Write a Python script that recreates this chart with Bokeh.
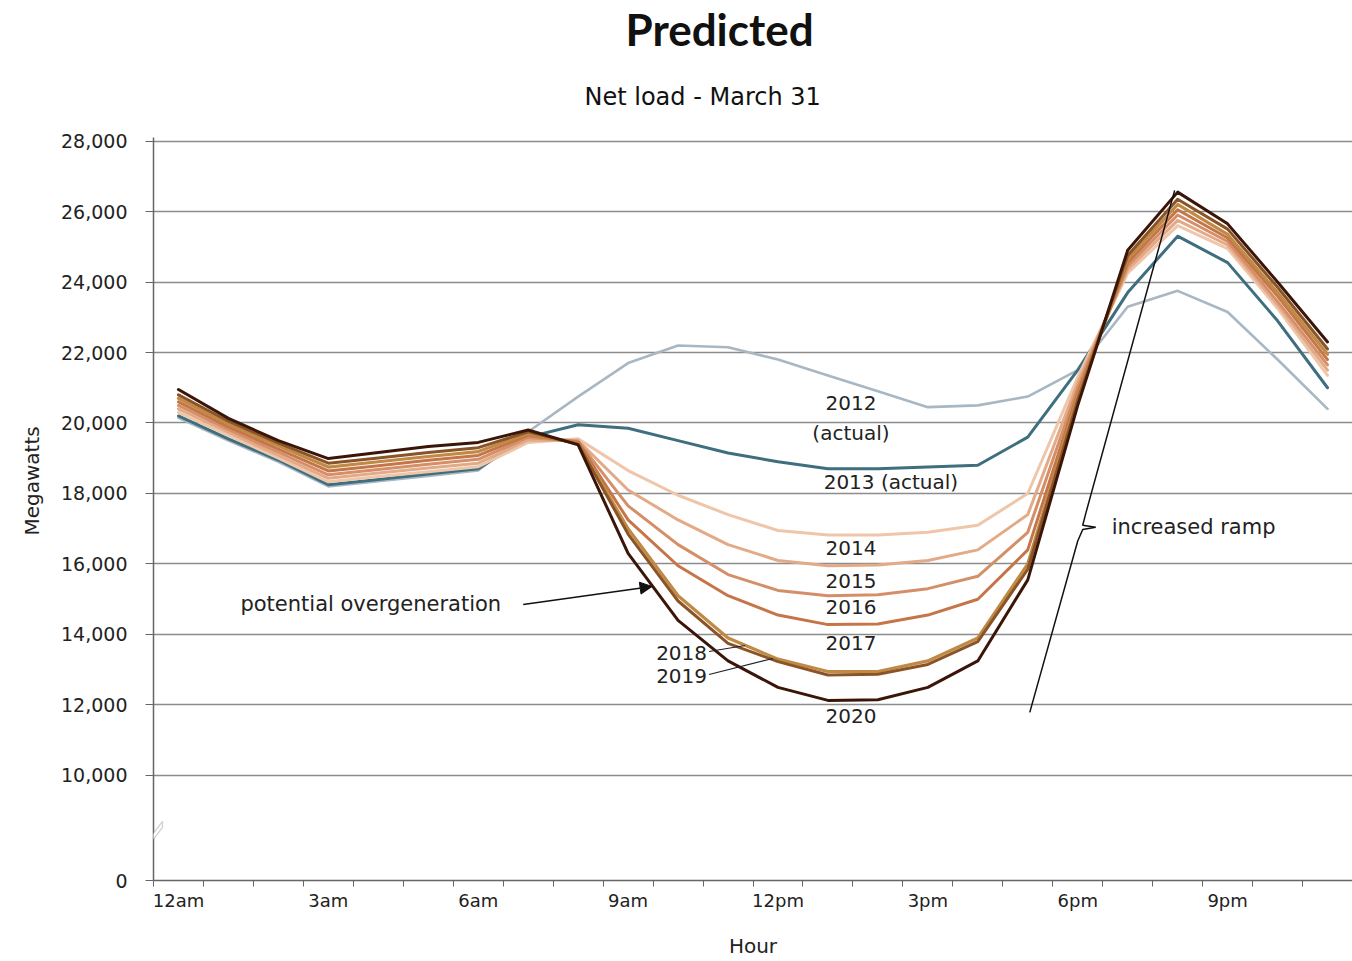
from bokeh.plotting import figure
from bokeh.models import (FixedTicker, NumeralTickFormatter, Range1d, Label, Title,
                          Arrow, NormalHead, PolyAnnotation)
from bokeh.embed import file_html
from bokeh.resources import INLINE

# ---------------- data ----------------
hours = list(range(24))
hour_labels = {0: "12am", 3: "3am", 6: "6am", 9: "9am", 12: "12pm", 15: "3pm", 18: "6pm", 21: "9pm"}
y_tick_values = [10000, 12000, 14000, 16000, 18000, 20000, 22000, 24000, 26000, 28000]
ZERO_POS = 7020  # where the "0" tick sits below the axis break

load_2012 = [20150, 19500, 18900, 18200, 18350, 18500, 18650, 19750, 20750, 21700, 22200, 22150,
             21800, 21350, 20900, 20450, 20500, 20750, 21500, 23300, 23750, 23150, 21800, 20400]
load_2013 = [20200, 19550, 18950, 18250, 18400, 18550, 18700, 19600, 19950, 19850, 19500, 19150,
             18900, 18700, 18700, 18750, 18800, 19600, 21500, 23700, 25300, 24550, 22900, 21000]
load_2014 = [20300, 19650, 19000, 18330, 18480, 18620, 18760, 19450, 19550, 18650, 17950, 17400,
             16950, 16820, 16820, 16900, 17100, 18000, 21300, 24250, 25600, 24950, 23250, 21350]
load_2015 = [20400, 19730, 19080, 18430, 18580, 18720, 18860, 19520, 19500, 18100, 17250, 16550,
             16100, 15950, 15970, 16100, 16400, 17400, 21150, 24350, 25750, 25050, 23350, 21500]
load_2016 = [20500, 19810, 19170, 18530, 18680, 18830, 18970, 19590, 19480, 17650, 16550, 15700,
             15250, 15100, 15130, 15300, 15650, 16900, 21000, 24450, 25900, 25150, 23450, 21650]
load_2017 = [20600, 19890, 19260, 18640, 18790, 18940, 19080, 19650, 19450, 17250, 15950, 15100,
             14550, 14280, 14300, 14550, 15000, 16400, 20850, 24550, 26050, 25250, 23600, 21800]
load_2018 = [20700, 19970, 19350, 18750, 18900, 19050, 19190, 19700, 19420, 17000, 15100, 13900,
             13300, 12950, 12950, 13250, 13900, 16000, 20750, 24650, 26200, 25350, 23700, 21950]
load_2019 = [20800, 20050, 19430, 18860, 19010, 19160, 19300, 19750, 19400, 16850, 14950, 13750,
             13230, 12850, 12870, 13150, 13800, 15850, 20650, 24750, 26350, 25500, 23850, 22100]
load_2020 = [20950, 20130, 19500, 18990, 19160, 19330, 19450, 19800, 19380, 16300, 14400, 13250,
             12500, 12130, 12150, 12500, 13250, 15550, 20500, 24900, 26550, 25650, 24000, 22300]

series = [
    ("2012", load_2012, "#a9b7c2", 2.6),
    ("2013", load_2013, "#3f6e7e", 3.0),
    ("2014", load_2014, "#efc6aa", 3.0),
    ("2015", load_2015, "#e3aa87", 3.0),
    ("2016", load_2016, "#d58f68", 3.0),
    ("2017", load_2017, "#c67548", 3.0),
    ("2018", load_2018, "#c08a45", 3.2),
    ("2019", load_2019, "#8a5428", 3.0),
    ("2020", load_2020, "#3b1608", 3.0),
]

# ---------------- figure ----------------
FONT = "DejaVu Sans"
TXT = "#222222"
AX = "#666666"

p = figure(width=1352, height=960, output_backend="svg", toolbar_location=None,
           x_range=Range1d(-0.5, 23.5), y_range=Range1d(ZERO_POS, 28100),
           title_location=None,
           min_border_left=153, min_border_right=0, min_border_top=137, min_border_bottom=80)
p.outline_line_color = None
p.background_fill_color = "white"
p.border_fill_color = "white"

for name, vals, color, lw in series:
    p.line(hours, vals, line_color=color, line_width=lw, line_join="round", line_cap="round")

# titles (subtitle first: it sits closest to the frame)
sub = Title(text="Net load - March 31", align="left", offset=431, standoff=53,
            text_font=FONT, text_font_size="24px", text_font_style="normal", text_color="#111111")
main = Title(text="Predicted", align="left", offset=472, standoff=0,
             text_font="Lato", text_font_size="44px", text_font_style="bold", text_color="#111111")
p.add_layout(sub, "above")
p.add_layout(main, "above")

# x axis
xa = p.xaxis[0]
xa.ticker = FixedTicker(ticks=list(hour_labels.keys()),
                        minor_ticks=[h - 0.5 for h in range(25)])
xa.major_label_overrides = hour_labels
xa.major_tick_out = 0
xa.major_tick_in = 0
xa.minor_tick_out = 6
xa.minor_tick_in = 0
xa.minor_tick_line_color = AX
xa.axis_line_color = AX
xa.axis_line_width = 1.5
xa.major_label_text_font = FONT
xa.major_label_text_font_size = "18px"
xa.major_label_text_color = TXT
xa.major_label_standoff = 3
xa.axis_label = "Hour"
xa.axis_label_text_font = FONT
xa.axis_label_text_font_size = "20px"
xa.axis_label_text_font_style = "normal"
xa.axis_label_text_color = TXT
xa.axis_label_standoff = 20

# y axis
ya = p.yaxis[0]
ya.ticker = FixedTicker(ticks=[ZERO_POS] + y_tick_values)
ya.formatter = NumeralTickFormatter(format="0,0")
ya.major_label_overrides = {ZERO_POS: "0"}
ya.major_tick_out = 8
ya.major_tick_in = 0
ya.minor_tick_out = 0
ya.minor_tick_in = 0
ya.major_tick_line_color = AX
ya.axis_line_color = AX
ya.axis_line_width = 1.5
ya.major_label_text_font = FONT
ya.major_label_text_font_size = "19px"
ya.major_label_text_color = TXT
ya.major_label_standoff = 18

# y axis title as a left-side title, so it can sit above the frame's centre
ytitle = Title(text="Megawatts", align="left", offset=345, standoff=30,
               text_font=FONT, text_font_size="20px", text_font_style="normal", text_color=TXT)
p.add_layout(ytitle, "left")

p.xgrid.visible = False
p.ygrid.ticker = FixedTicker(ticks=y_tick_values)
p.ygrid.grid_line_color = "#8c8c8c"
p.ygrid.grid_line_width = 1.3

# axis break mark
p.add_layout(PolyAnnotation(xs=[-0.56, -0.32, -0.32, -0.56], ys=[8250, 8700, 8530, 8080],
                            fill_color="white", fill_alpha=1.0, line_color=AX, line_width=1.3))

# ---------------- annotations ----------------
def lab(text, x, y, align="center", size="20px"):
    p.add_layout(Label(x=x, y=y, text=text, text_align=align, text_baseline="middle",
                       text_font=FONT, text_font_size=size, text_color=TXT))

lab("2012", 13.46, 20580)
lab("(actual)", 13.46, 19730)
lab("2013 (actual)", 14.26, 18340)
lab("2014", 13.46, 16440)
lab("2015", 13.46, 15530)
lab("2016", 13.46, 14770)
lab("2017", 13.46, 13745)
lab("2020", 13.46, 11674)
lab("2018", 10.58, 13461, align="right")
lab("2019", 10.58, 12809, align="right")
lab("potential overgeneration", 1.24, 14851, align="left", size="21px")
lab("increased ramp", 18.68, 17036, align="left", size="21px")

# leader lines
p.add_layout(Arrow(end=None, x_start=10.62, y_start=13518, x_end=11.34, y_end=13688,
                   line_color="#222222", line_width=1.2))
p.add_layout(Arrow(end=None, x_start=10.62, y_start=12865, x_end=11.9, y_end=13319,
                   line_color="#222222", line_width=1.2))
p.add_layout(Arrow(end=NormalHead(size=12, fill_color="#111111", line_color="#111111"),
                   x_start=6.9, y_start=14851, x_end=9.48, y_end=15362,
                   line_color="#111111", line_width=1.6))

# increased ramp line with brace
ramp_x = [17.04, 18.0, 18.1, 18.36, 18.1, 18.16, 19.94]
ramp_y = [11790, 16650, 16980, 17040, 17100, 17430, 26600]
p.line(ramp_x, ramp_y, line_color="#111111", line_width=1.5)

open("out.html", "w").write(file_html(p, INLINE))
